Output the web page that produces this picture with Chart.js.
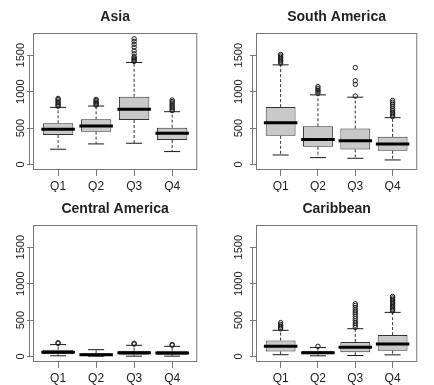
<!DOCTYPE html>
<html>
<head>
<meta charset="utf-8">
<script src="https://cdn.jsdelivr.net/npm/chart.js@4.4.1/dist/chart.umd.min.js"></script>
<style>
  html, body { margin: 0; padding: 0; background: #fff; width: 434px; height: 385px; overflow: hidden; }
  canvas { position: absolute; }
</style>
</head>
<body>
<canvas id="asia" width="217" height="192" style="left:0;top:0"></canvas>
<canvas id="southAmerica" width="220" height="192" style="left:217px;top:0"></canvas>
<canvas id="centralAmerica" width="217" height="193" style="left:0;top:192px"></canvas>
<canvas id="caribbean" width="220" height="193" style="left:217px;top:192px"></canvas>
<script>
// ─── Data ───
const quarters = ['Q1', 'Q2', 'Q3', 'Q4'];
const yTicks = [0, 500, 1000, 1500];

const asiaLow  = [210, 283, 292, 178];
const asiaQ1   = [406, 451, 611, 337];
const asiaMed  = [483, 529, 757, 429];
const asiaQ3   = [565, 620, 930, 506];
const asiaHigh = [784, 803, 1400, 725];
const asiaOut  = [
  [800, 815, 830, 850, 870, 890, 907],
  [815, 830, 845, 860, 880, 894],
  [1415, 1430, 1445, 1460, 1480, 1520, 1560, 1610, 1650, 1690, 1725],
  [740, 760, 780, 800, 820, 845, 865, 885]
];

const saLow  = [131, 95, 86, 63];
const saQ1   = [394, 245, 208, 190];
const saMed  = [575, 344, 326, 281];
const saQ3   = [788, 525, 494, 380];
const saHigh = [1368, 956, 924, 643];
const saOut  = [
  [1390, 1410, 1430, 1450, 1470, 1490, 1510],
  [975, 1000, 1020, 1045, 1070],
  [940, 1100, 1150, 1330],
  [660, 680, 700, 720, 745, 770, 800, 830, 855, 880]
];

const caLow  = [10, 5, 5, 5];
const caQ1   = [32, 10, 24, 24];
const caMed  = [60, 24, 52, 48];
const caQ3   = [94, 46, 80, 80];
const caHigh = [164, 94, 154, 140];
const caOut  = [[180, 190], [], [170, 182], [155, 164]];

const cbLow  = [25, 10, 14, 23];
const cbQ1   = [70, 32, 60, 80];
const cbMed  = [140, 52, 126, 172];
const cbQ3   = [220, 80, 200, 294];
const cbHigh = [360, 125, 382, 606];
const cbOut  = [
  [380, 400, 420, 440, 466],
  [140],
  [400, 430, 460, 490, 520, 550, 580, 610, 640, 670, 700, 724],
  [625, 645, 665, 685, 705, 725, 745, 765, 785, 805, 826]
];

// ─── Look ───
Chart.defaults.font.family = "'Liberation Sans', Arial, sans-serif";
Chart.defaults.color = '#222';
const FRAME = '#777';
const INK = '#1a1a1a';

// frame around plot region, short y axis line 0..1500 and panel title centred on the plot (like R)
const framePlugin = {
  id: 'frame',
  afterDraw(chart) {
    const { ctx, chartArea: a, scales } = chart;
    ctx.save();
    ctx.strokeStyle = FRAME;
    ctx.lineWidth = 1;
    ctx.strokeRect(a.left + 0.5, a.top + 0.5, a.right - a.left - 1, a.bottom - a.top - 1);
    const y = scales.y;
    const ax = a.left - 3.5;
    ctx.beginPath();
    ctx.moveTo(ax, y.getPixelForValue(yTicks[0]));
    ctx.lineTo(ax, y.getPixelForValue(yTicks[yTicks.length - 1]));
    ctx.stroke();

    const title = chart.options.plugins.frame.title;
    ctx.fillStyle = '#222';
    ctx.font = "bold 14px 'Liberation Sans', Arial, sans-serif";
    ctx.textAlign = 'center';
    ctx.textBaseline = 'middle';
    ctx.fillText(title, (a.left + a.right) / 2, 17);
    ctx.restore();
  }
};

function makePanel(id, title, low, q1, med, q3, high, out, lay) {
  const xs = quarters.map((q, i) => i + 1);
  const boxes = xs.map((x, i) => ({ x, y: [q1[i], q3[i]] }));
  const medians = xs.map((x, i) => ({ x, y: med[i] }));
  const caps = xs.flatMap((x, i) => [{ x, y: low[i] }, { x, y: high[i] }]);
  const whiskers = xs.flatMap((x, i) => [
    { x, y: q3[i] }, { x, y: high[i] }, { x, y: null },
    { x, y: q1[i] }, { x, y: low[i] }, { x, y: null }
  ]);
  const outliers = xs.flatMap((x, i) => out[i].map(v => ({ x, y: v })));

  new Chart(document.getElementById(id), {
    type: 'bar',
    data: {
      datasets: [
        {
          type: 'scatter', data: medians,
          pointStyle: 'line', pointRadius: 16.75,
          pointBorderWidth: 3, pointBorderColor: '#000'
        },
        {
          type: 'scatter', data: outliers,
          pointStyle: 'circle', pointRadius: 2.2,
          pointBorderWidth: 1, pointBorderColor: INK,
          pointBackgroundColor: 'rgba(255,255,255,0)'
        },
        {
          type: 'scatter', data: caps,
          pointStyle: 'line', pointRadius: 8,
          pointBorderWidth: 1, pointBorderColor: INK
        },
        {
          type: 'bar', data: boxes,
          backgroundColor: '#c9c9c9', borderColor: '#333',
          borderWidth: 1, borderSkipped: false,
          barPercentage: 0.8, categoryPercentage: 1
        },
        {
          type: 'line', data: whiskers,
          borderColor: '#333', borderWidth: 1, borderDash: [3, 2],
          pointRadius: 0, spanGaps: false, tension: 0
        }
      ]
    },
    options: {
      responsive: false,
      animation: false,
      events: [],
      layout: { padding: { left: 0, right: lay.padRight, top: 33, bottom: 0 } },
      plugins: {
        legend: { display: false },
        tooltip: { enabled: false },
        title: { display: false },
        frame: { title }
      },
      scales: {
        x: {
          type: 'linear', min: 0.34, max: 4.66,
          offset: false,
          afterBuildTicks: s => { s.ticks = xs.map(v => ({ value: v })); },
          afterFit: s => { s.height = lay.xHeight; },
          ticks: {
            callback: v => quarters[v - 1],
            font: { size: 12 }, color: '#222', padding: 3,
            maxRotation: 0, minRotation: 0
          },
          grid: { drawOnChartArea: false, offset: false, tickLength: 6, color: FRAME },
          border: { display: false }
        },
        y: {
          min: -75, max: 1805,
          afterBuildTicks: s => { s.ticks = yTicks.map(v => ({ value: v })); },
          afterFit: s => { s.width = lay.yWidth; },
          ticks: {
            callback: v => String(v),
            minRotation: 90, maxRotation: 90, crossAlign: 'center',
            font: { size: 11 }, color: '#222', padding: lay.yPad
          },
          grid: { drawOnChartArea: false, tickLength: 6, color: FRAME },
          border: { display: false }
        }
      }
    },
    plugins: [framePlugin]
  });
}

makePanel('asia', 'Asia', asiaLow, asiaQ1, asiaMed, asiaQ3, asiaHigh, asiaOut,
  { padRight: 3, yWidth: 33, xHeight: 22, yPad: -6 });
makePanel('southAmerica', 'South America', saLow, saQ1, saMed, saQ3, saHigh, saOut,
  { padRight: 0, yWidth: 39, xHeight: 22, yPad: -1 });
makePanel('centralAmerica', 'Central America', caLow, caQ1, caMed, caQ3, caHigh, caOut,
  { padRight: 3, yWidth: 33, xHeight: 23, yPad: -6 });
makePanel('caribbean', 'Caribbean', cbLow, cbQ1, cbMed, cbQ3, cbHigh, cbOut,
  { padRight: 0, yWidth: 39, xHeight: 23, yPad: -1 });
</script>
</body>
</html>
